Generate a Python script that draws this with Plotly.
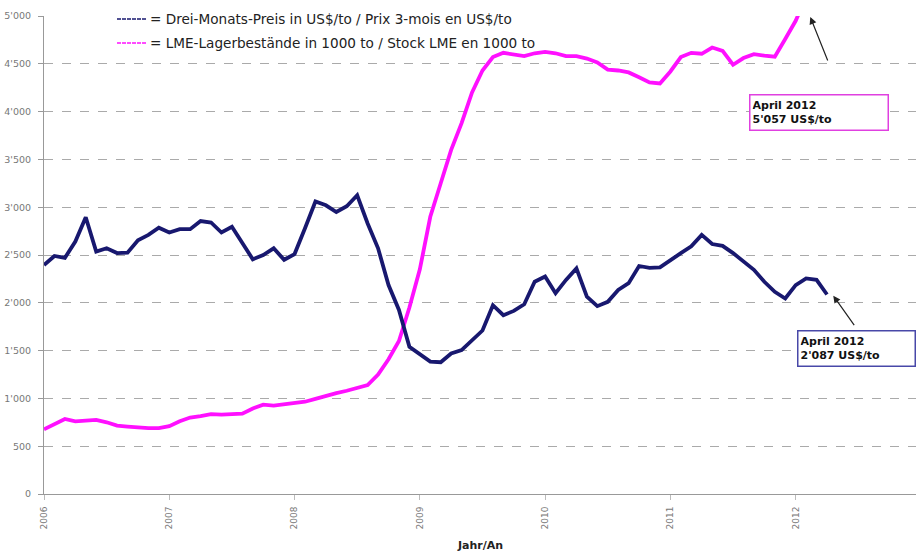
import plotly.graph_objects as go

# ---- data (monthly, Jan 2006 .. Apr 2012) ----
years = ["2006", "2007", "2008", "2009", "2010", "2011", "2012"]
price_usd = [
    2395, 2490, 2470, 2640, 2895, 2535, 2570, 2520, 2525, 2655, 2710, 2785,
    2735, 2770, 2770, 2855, 2840, 2735, 2795, 2620, 2455, 2500, 2570, 2450,
    2510, 2780, 3060, 3020, 2950, 3010, 3125, 2830, 2570, 2185, 1925, 1540,
    1465, 1385, 1378, 1470, 1505, 1610, 1710, 1975, 1870, 1915, 1985, 2220,
    2275, 2100, 2240, 2360, 2065, 1965, 2010, 2135, 2205, 2385, 2365, 2370,
    2450, 2520, 2590, 2710, 2615, 2595, 2520, 2430, 2345, 2220, 2115, 2045,
    2185, 2255, 2240, 2087,
]
stock_lme = [
    677, 735, 785, 760, 765, 775, 750, 715, 705, 695, 690, 690,
    710, 760, 800, 815, 835, 830, 835, 840, 895, 935, 925, 935,
    950, 965, 995, 1030, 1055, 1080, 1110, 1140, 1250, 1410, 1600, 1950,
    2350, 2900, 3250, 3600, 3880, 4200, 4430, 4570, 4615, 4595, 4580, 4610,
    4625, 4610, 4580, 4580, 4555, 4515, 4440, 4430, 4410, 4360, 4305, 4295,
    4420, 4570, 4615, 4605, 4670, 4635, 4490, 4560, 4600, 4585, 4575, 4760,
    4950, 5200, 5150, 5057,
]
y_ticks = [0, 500, 1000, 1500, 2000, 2500, 3000, 3500, 4000, 4500, 5000]
y_tick_text = ["0", "500", "1'000", "1'500", "2'000", "2'500", "3'000",
               "3'500", "4'000", "4'500", "5'000"]
legend_price = "= Drei-Monats-Preis in US$/to / Prix 3-mois en US$/to"
legend_stock = "= LME-Lagerbestände in 1000 to / Stock LME en 1000 to"
label_price = "April 2012<br>2'087 US$/to"
label_stock = "April 2012<br>5'057 US$/to"

months = list(range(len(price_usd)))
year_pos = [12 * i for i in range(len(years))]

W, H = 916, 555
ML, MR, MT, MB = 44, 0, 16, 61
PW, PH = W - ML - MR, H - MT - MB


def px(x):
    return (x - ML) / PW


def py(y):
    return (H - MB - y) / PH


NAVY = "#18186f"
MAG = "#ff10ff"
FONT = "DejaVu Sans, Liberation Sans, Arial, sans-serif"

fig = go.Figure()
fig.add_trace(go.Scatter(x=months, y=stock_lme, mode="lines",
                         line=dict(color=MAG, width=3.8), showlegend=False))
fig.add_trace(go.Scatter(x=months, y=price_usd, mode="lines",
                         line=dict(color=NAVY, width=3.8), showlegend=False))

annotations = []
shapes = []

# legend
for ytxt, txt, col in [(19, legend_price, NAVY), (43, legend_stock, MAG)]:
    shapes.append(dict(type="line", xref="paper", yref="paper",
                       x0=px(117), x1=px(146), y0=py(ytxt), y1=py(ytxt),
                       line=dict(color=col, width=1.5, dash="4px,1px")))
    annotations.append(dict(xref="paper", yref="paper", x=px(148), y=py(ytxt),
                            xanchor="left", yanchor="middle", showarrow=False,
                            text=txt, font=dict(family=FONT, size=13.6, color="#222")))

# arrows
annotations.append(dict(x=73.4, y=4990, xref="x", yref="y", text="",
                        showarrow=True, arrowhead=2, arrowsize=1.2, arrowwidth=1.2,
                        arrowcolor="#222", ax=18, ay=45))
annotations.append(dict(x=75.6, y=2075, xref="x", yref="y", text="",
                        showarrow=True, arrowhead=2, arrowsize=1.2, arrowwidth=1.2,
                        arrowcolor="#222", ax=22, ay=31))

# labelled boxes
annotations.append(dict(xref="paper", yref="paper", x=px(749), y=py(94),
                        xanchor="left", yanchor="top", showarrow=False,
                        text="<b>" + label_stock + "</b>", align="left",
                        width=133, height=30, valign="middle",
                        bordercolor="#e040e0", borderwidth=1.5, borderpad=2,
                        bgcolor="white",
                        font=dict(family=FONT, size=11, color="#111")))
annotations.append(dict(xref="paper", yref="paper", x=px(797), y=py(330),
                        xanchor="left", yanchor="top", showarrow=False,
                        text="<b>" + label_price + "</b>", align="left",
                        width=112, height=30, valign="middle",
                        bordercolor="#4848a8", borderwidth=1.5, borderpad=2,
                        bgcolor="white",
                        font=dict(family=FONT, size=11, color="#111")))

# axis title
annotations.append(dict(xref="paper", yref="paper", x=0.5, y=py(545),
                        xanchor="center", yanchor="middle", showarrow=False,
                        text="<b>Jahr/An</b>",
                        font=dict(family=FONT, size=11, color="#222")))

fig.update_layout(
    width=W, height=H,
    margin=dict(l=ML, r=MR, t=MT, b=MB, pad=0),
    paper_bgcolor="white", plot_bgcolor="white",
    font=dict(family=FONT, size=9, color="#666"),
    showlegend=False,
    annotations=annotations,
    shapes=shapes,
    xaxis=dict(range=[0, PW / 10.44], tickvals=year_pos, ticktext=years,
               tickangle=-90, ticks="outside", ticklen=5, tickcolor="#bbb",
               showgrid=False, zeroline=False, showline=True, automargin=False,
               linecolor="#999", linewidth=1, ticklabelstandoff=3,
               tickfont=dict(family=FONT, size=9, color="#777")),
    yaxis=dict(range=[0, 5000], tickvals=y_ticks, ticktext=y_tick_text,
               ticks="outside", ticklen=5, tickcolor="#999", automargin=False,
               showgrid=True, gridcolor="#aaa", gridwidth=1, griddash="dash",
               zeroline=False, showline=True, linecolor="#999", linewidth=1,
               ticklabelstandoff=5,
               tickfont=dict(family=FONT, size=9.5, color="#777")),
)

post = ("document.body.style.margin='0';document.body.style.padding='0';"
        "document.documentElement.style.overflow='hidden';"
        "Plotly.relayout('{plot_id}', {width: 916, height: 555});")
fig.write_html("out.html", config={"responsive": False, "displayModeBar": False},
               post_script=post)
